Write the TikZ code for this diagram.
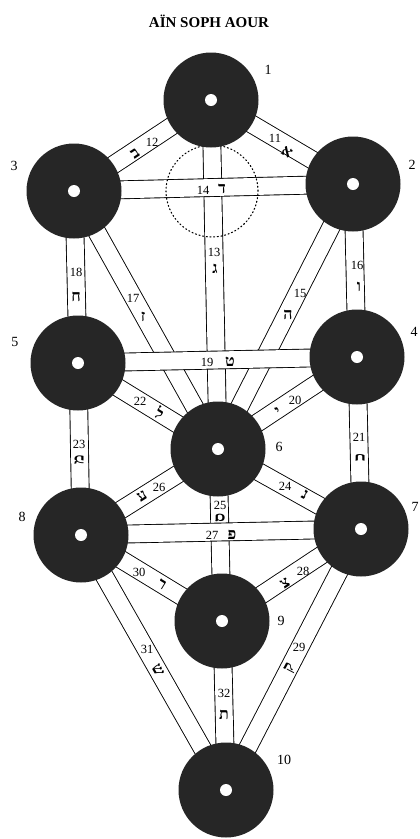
\documentclass[tikz,border=0pt]{standalone}
\usepackage{fontspec}
\setmainfont{Liberation Serif}
\newfontfamily\hebfont[Script=Hebrew]{Liberation Serif}

\begin{document}
\begin{tikzpicture}[x=1pt, y=-1pt,
    % sephira disc with a white centre
    sephira/.style={
        circle,
        fill=black!85,
        minimum size=95pt,
        inner sep=0pt,
        path picture={\fill[white] (path picture bounding box.center) circle (6pt);}
    },
    % channel between two sephiroth
    channel/.style={line width=0.9pt, double=white, double distance=17pt},
    dottedring/.style={line width=1.1pt, dash pattern=on 1.1pt off 2.6pt, line cap=round},
    numlabel/.style={font=\fontsize{12.5}{12.5}\selectfont, inner sep=0pt},
    heblabel/.style={font=\hebfont\bfseries\fontsize{16}{16}\selectfont, inner sep=0pt},
    seflabel/.style={font=\fontsize{14}{14}\selectfont, inner sep=0pt}
]
    \useasboundingbox (0,0) rectangle (420,839);

    \node[font=\bfseries\fontsize{15}{15}\selectfont] (title) at (209,21) {AÏN SOPH AOUR};

    % ================== centres ==================
    \coordinate (c1) at (211,100);
    \coordinate (c2) at (353,184);
    \coordinate (c3) at (74,191);
    \coordinate (c4) at (357,357);
    \coordinate (c5) at (78,363);
    \coordinate (c6) at (218,449);
    \coordinate (c7) at (361,529);
    \coordinate (c8) at (81,535);
    \coordinate (c9) at (222,621);
    \coordinate (c10) at (226,790);
    \coordinate (cdaath) at (212,191);

    % ================== channels ==================
    \foreach \a/\b in {1/2, 1/3, 1/6, 2/6, 2/4, 3/6, 3/5, 4/6, 4/7, 5/6, 5/8,
                       6/7, 6/9, 6/8, 7/9, 7/10, 8/9, 8/10, 9/10}
        \draw[channel] (c\a.center) -- (c\b.center);
    % horizontal channels lie on top
    \draw[channel] (c3.center) -- (c2.center);
    \draw[channel] (c5.center) -- (c4.center);
    \draw[channel] (c8.center) -- (c7.center);

    % Daath
    \draw[dottedring] (cdaath) circle (46pt);

    % ================== sephiroth ==================
    \foreach \s in {1,...,10}
        \node[sephira] (s\s) at (c\s) {};

    \foreach \s/\x/\y in {1/268/70, 2/412/165, 3/14/166, 4/414/332, 5/15/342,
                          6/279/447, 7/415/507, 8/22/517, 9/281/621, 10/284/760}
        \node[seflabel] (l\s) at (\x,\y) {\s};

    % ================== path numbers and letters ==================
    \foreach \n/\x/\y/\hx/\hy/\r/\h in {
        11/275/138/287/152/-30.6/א,
        12/152/142/135/153/33.6/ב,
        13/214/252/215/269/0/ג,
        14/203/190/222/189/0/ד,
        15/300/293/288/315/0/ה,
        16/357/265/359/287/0/ו,
        17/133/298/143/317/0/ז,
        18/76/272/76/297/0/ח,
        19/207/362/230/362/0/ט,
        20/295/400/278/411/33.5/י,
        21/359/437/360/458/90/כ,
        22/140/401/160/413/-31.6/ל,
        23/79/444/79/460/90/מ,
        24/285/486/305/495/-29.2/נ,
        25/220/505/220/518/90/ס,
        26/159/487/142/496/32.1/ע,
        27/212/535/232/535/0/פ,
        28/303/571/285/583/33.5/צ,
        29/299/647/290/668/62.6/ק,
        30/139/572/162/585/-31.4/ר,
        31/147/649/158/670/-60.4/ש,
        32/224/693/224/715/0/ת}{
        \node[numlabel] (n\n) at (\x,\y) {\n};
        \node[heblabel, rotate=\r] (h\n) at (\hx,\hy) {\h};
    }

\end{tikzpicture}
\end{document}
